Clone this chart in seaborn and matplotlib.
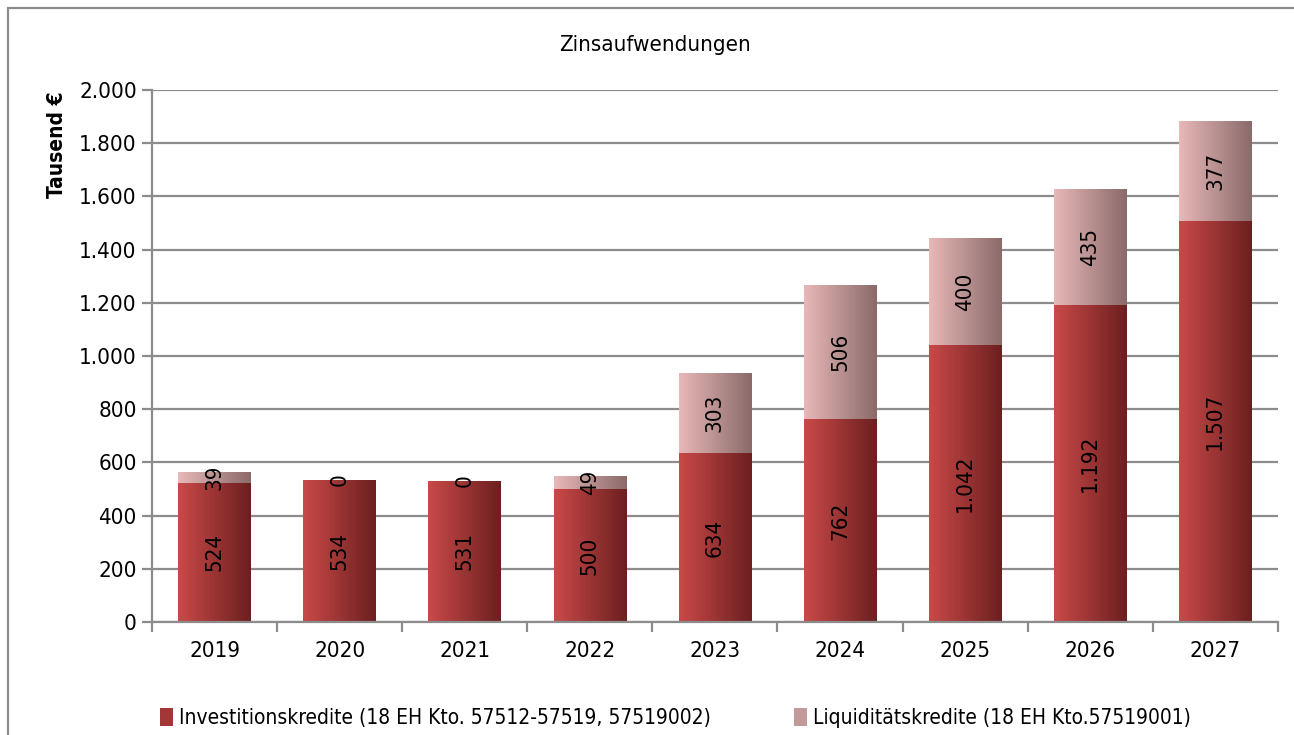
import numpy as np
import matplotlib
matplotlib.use("Agg")
import matplotlib.pyplot as plt
import seaborn as sns
from matplotlib.colors import LinearSegmentedColormap
from matplotlib.patches import Patch, Rectangle
from matplotlib.ticker import FuncFormatter, FixedLocator

# daten aus der grafik
jahre = ["2019", "2020", "2021", "2022", "2023", "2024", "2025", "2026", "2027"]
investition = [524, 534, 531, 500, 634, 762, 1042, 1192, 1507]
liquiditaet = [39, 0, 0, 49, 303, 506, 400, 435, 377]

name_inv = "Investitionskredite (18 EH Kto. 57512-57519, 57519002)"
name_liq = "Liquiditätskredite (18 EH Kto.57519001)"

dunkel = ("#C94A48", "#6C1F20")
hell = ("#E9B8B8", "#8A6A6A")
grau = "#8C8C8C"

sns.set_style("white")
plt.rcParams["font.family"] = ["DejaVu Sans"]
plt.rcParams["font.stretch"] = "condensed"
plt.rcParams["text.color"] = "black"
plt.rcParams["xtick.color"] = "black"
plt.rcParams["ytick.color"] = "black"


def deutsch(v, pos=None):
    return f"{v:,.0f}".replace(",", ".")


def verlauf(ax, patch, farben):
    # farbverlauf von links nach rechts in den balken legen
    h = patch.get_height()
    if h <= 0:
        return
    x0, y0, w = patch.get_x(), patch.get_y(), patch.get_width()
    cmap = LinearSegmentedColormap.from_list("v", list(farben))
    grad = np.linspace(0, 1, 256).reshape(1, -1)
    im = ax.imshow(grad, cmap=cmap, extent=[x0, x0 + w, y0, y0 + h],
                   aspect="auto", interpolation="bilinear", zorder=2)
    im.set_clip_path(patch)
    patch.set_facecolor("none")


fig = plt.figure(figsize=(12.94, 7.35), dpi=100)
ax = fig.add_axes([0.1175, 0.1537, 0.870, 0.7239])

sns.barplot(x=jahre, y=investition, color=dunkel[0], width=0.58,
            errorbar=None, ax=ax, linewidth=0)
sns.barplot(x=jahre, y=liquiditaet, bottom=investition, color=hell[0],
            width=0.58, errorbar=None, ax=ax, linewidth=0)

for cont, farben in zip(ax.containers, [dunkel, hell]):
    for p in cont.patches:
        verlauf(ax, p, farben)

for cont, werte in zip(ax.containers, [investition, liquiditaet]):
    ax.bar_label(cont, labels=[deutsch(v) for v in werte], label_type="center",
                 rotation=90, fontsize=16, color="black", zorder=5)

ax.set_xlim(-0.5, len(jahre) - 0.5)
ax.set_ylim(0, 2000)
ax.set_yticks(np.arange(0, 2001, 200))
ax.yaxis.set_major_formatter(FuncFormatter(deutsch))
ax.yaxis.grid(True, color=grau, linewidth=1.6)
ax.set_axisbelow(True)

ax.xaxis.set_minor_locator(FixedLocator(np.arange(-0.5, len(jahre), 1)))
ax.tick_params(axis="x", which="major", length=0, labelsize=16, pad=14)
ax.tick_params(axis="x", which="minor", length=7, width=1.6, color=grau,
               direction="out", bottom=True)
ax.tick_params(axis="y", length=7, width=1.6, color=grau, labelcolor="black",
               direction="out", left=True, labelsize=16, pad=4)
ax.set_xlabel("")
ax.set_ylabel("")

for s in ["top", "right"]:
    ax.spines[s].set_visible(False)
for s in ["left", "bottom"]:
    ax.spines[s].set_color(grau)
    ax.spines[s].set_linewidth(1.6)

fig.text(0.506, 1 - 45 / 735, "Zinsaufwendungen", ha="center", va="center",
         fontsize=16)
fig.text(57 / 1294, 1 - 145 / 735, "Tausend €", rotation=90, ha="center",
         va="center", fontsize=15, fontweight="bold")

handles = [Patch(facecolor="#A33636", edgecolor="none", label=name_inv),
           Patch(facecolor="#C29A9A", edgecolor="none", label=name_liq)]
fig.legend(handles=handles, loc="center", bbox_to_anchor=(0.522, 1 - 718 / 735),
           ncol=2, frameon=False, fontsize=15, handlelength=0.6,
           handleheight=1.0, handletextpad=0.3, columnspacing=4.0)

# rahmen um die grafik, rechts und unten abgeschnitten
fig.patches.append(Rectangle((8 / 1294, -0.5), 2.0, 1.5 - 8 / 735,
                             transform=fig.transFigure, fill=False,
                             edgecolor=grau, linewidth=1.6))

fig.savefig("out.png", dpi=100)
